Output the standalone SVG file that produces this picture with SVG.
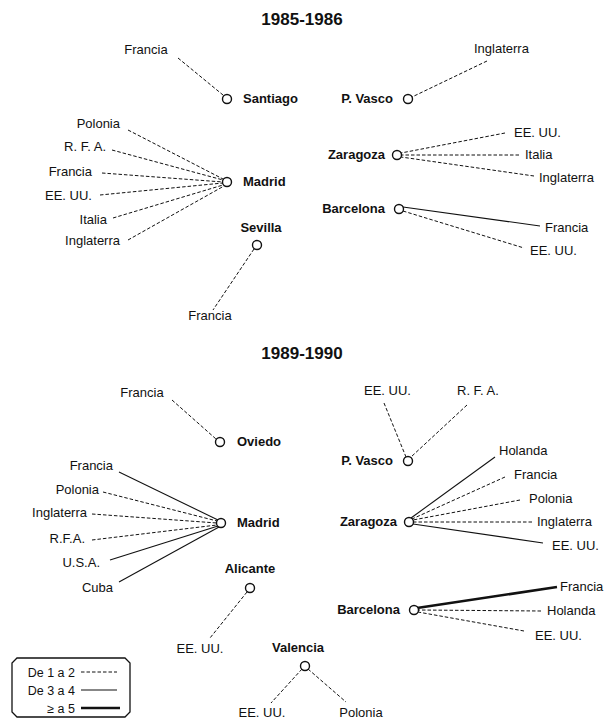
<svg xmlns="http://www.w3.org/2000/svg" width="604" height="720" viewBox="0 0 604 720">
<style>
text{font-family:"Liberation Sans",Arial,sans-serif;fill:#111}
.t{font-size:17px;font-weight:bold;text-anchor:middle}
.h{font-size:13px;font-weight:bold}
.c{font-size:13px}
.lg{font-size:12.5px;text-anchor:end}
.e{text-anchor:end}.m{text-anchor:middle}
.d{stroke:#111;stroke-width:1;stroke-dasharray:3.5 2;fill:none}
.s{stroke:#111;stroke-width:1.1;fill:none}
.k{stroke:#111;stroke-width:2.6;fill:none}
.n{fill:#fff;stroke:#111;stroke-width:1.4}
</style>
<rect width="604" height="720" fill="#fff"/>
<text class="t" x="302" y="25">1985-1986</text>
<text class="t" x="302" y="359">1989-1990</text>

<g id="connectors">
<!-- 1985 -->
<line class="d" x1="178" y1="58" x2="223" y2="95"/>
<line class="d" x1="487" y1="61" x2="412" y2="97"/>
<line class="d" x1="128" y1="130" x2="223" y2="179"/>
<line class="d" x1="112" y1="150" x2="223" y2="180"/>
<line class="d" x1="102" y1="173" x2="223" y2="182"/>
<line class="d" x1="100" y1="195" x2="223" y2="183"/>
<line class="d" x1="113" y1="218" x2="223" y2="185"/>
<line class="d" x1="128" y1="240" x2="224" y2="186"/>
<line class="d" x1="254" y1="249" x2="213" y2="310"/>
<line class="d" x1="505" y1="133" x2="401" y2="153"/>
<line class="d" x1="519" y1="155" x2="402" y2="155"/>
<line class="d" x1="534" y1="176" x2="401" y2="157"/>
<line class="s" x1="403" y1="207" x2="540" y2="226"/>
<line class="d" x1="403" y1="211" x2="524" y2="248"/>
<!-- 1989 -->
<line class="d" x1="172" y1="400" x2="216" y2="439"/>
<line class="s" x1="119" y1="472" x2="218" y2="520"/>
<line class="d" x1="103" y1="492" x2="217" y2="521"/>
<line class="d" x1="92" y1="514" x2="217" y2="523"/>
<line class="d" x1="92" y1="540" x2="217" y2="525"/>
<line class="s" x1="110" y1="560" x2="218" y2="526"/>
<line class="s" x1="119" y1="582" x2="219" y2="527"/>
<line class="d" x1="247" y1="592" x2="210" y2="638"/>
<line class="d" x1="302" y1="669" x2="271" y2="703"/>
<line class="d" x1="308" y1="669" x2="346" y2="702"/>
<line class="d" x1="384" y1="403" x2="406" y2="457"/>
<line class="d" x1="467" y1="405" x2="411" y2="457"/>
<line class="s" x1="495" y1="457" x2="411" y2="518"/>
<line class="d" x1="505" y1="477" x2="412" y2="519"/>
<line class="d" x1="520" y1="500" x2="413" y2="520"/>
<line class="d" x1="532" y1="522" x2="413" y2="522"/>
<line class="s" x1="543" y1="543" x2="413" y2="524"/>
<line class="k" x1="557" y1="587" x2="417" y2="608"/>
<line class="d" x1="541" y1="611" x2="418" y2="610"/>
<line class="d" x1="524" y1="631" x2="418" y2="612"/>
</g>

<!-- 1985-1986 nodes -->
<g id="santiago-85"><circle class="n" cx="227" cy="99" r="4.5"/><text class="h" x="243" y="103">Santiago</text></g>
<g id="pvasco-85"><circle class="n" cx="408" cy="99" r="4.5"/><text class="h e" x="393" y="103">P. Vasco</text></g>
<g id="madrid-85"><circle class="n" cx="227" cy="182" r="4.5"/><text class="h" x="243" y="186">Madrid</text></g>
<g id="sevilla-85"><circle class="n" cx="257" cy="245" r="4.5"/><text class="h m" x="261" y="232">Sevilla</text></g>
<g id="zaragoza-85"><circle class="n" cx="397" cy="155" r="4.5"/><text class="h e" x="385" y="159">Zaragoza</text></g>
<g id="barcelona-85"><circle class="n" cx="399" cy="209" r="4.5"/><text class="h e" x="385" y="213">Barcelona</text></g>
<g id="labels-85">
<text class="c m" x="146" y="54">Francia</text>
<text class="c" x="474" y="53">Inglaterra</text>
<text class="c e" x="120" y="128">Polonia</text>
<text class="c e" x="106" y="151">R. F. A.</text>
<text class="c e" x="92" y="176">Francia</text>
<text class="c e" x="92" y="200">EE. UU.</text>
<text class="c e" x="107" y="224">Italia</text>
<text class="c e" x="120" y="245">Inglaterra</text>
<text class="c m" x="210" y="320">Francia</text>
<text class="c" x="514" y="137">EE. UU.</text>
<text class="c" x="525" y="159">Italia</text>
<text class="c" x="539" y="182">Inglaterra</text>
<text class="c" x="545" y="232">Francia</text>
<text class="c" x="530" y="255">EE. UU.</text>
</g>

<!-- 1989-1990 nodes -->
<g id="oviedo-89"><circle class="n" cx="220" cy="442" r="4.5"/><text class="h" x="237" y="446">Oviedo</text></g>
<g id="madrid-89"><circle class="n" cx="221" cy="523" r="4.5"/><text class="h" x="237" y="527">Madrid</text></g>
<g id="alicante-89"><circle class="n" cx="250" cy="588" r="4.5"/><text class="h m" x="250" y="573">Alicante</text></g>
<g id="valencia-89"><circle class="n" cx="305" cy="666" r="4.5"/><text class="h m" x="298" y="652">Valencia</text></g>
<g id="pvasco-89"><circle class="n" cx="408" cy="461" r="4.5"/><text class="h e" x="393" y="465">P. Vasco</text></g>
<g id="zaragoza-89"><circle class="n" cx="409" cy="522" r="4.5"/><text class="h e" x="397" y="526">Zaragoza</text></g>
<g id="barcelona-89"><circle class="n" cx="414" cy="610" r="4.5"/><text class="h e" x="400" y="614">Barcelona</text></g>
<g id="labels-89">
<text class="c m" x="142" y="397">Francia</text>
<text class="c e" x="113" y="470">Francia</text>
<text class="c e" x="99" y="494">Polonia</text>
<text class="c e" x="87" y="517">Inglaterra</text>
<text class="c e" x="85" y="543">R.F.A.</text>
<text class="c e" x="100" y="567">U.S.A.</text>
<text class="c e" x="113" y="592">Cuba</text>
<text class="c m" x="200" y="653">EE. UU.</text>
<text class="c m" x="262" y="717">EE. UU.</text>
<text class="c m" x="361" y="717">Polonia</text>
<text class="c" x="364" y="395">EE. UU.</text>
<text class="c" x="457" y="395">R. F. A.</text>
<text class="c" x="499" y="455">Holanda</text>
<text class="c" x="514" y="479">Francia</text>
<text class="c" x="529" y="503">Polonia</text>
<text class="c" x="537" y="526">Inglaterra</text>
<text class="c" x="552" y="550">EE. UU.</text>
<text class="c" x="560" y="591">Francia</text>
<text class="c" x="547" y="615">Holanda</text>
<text class="c" x="535" y="640">EE. UU.</text>
</g>

<g id="legend">
<polygon points="17,658 125,658 130,663 130,712 125,717 17,717 12,712 12,663" fill="#fff" stroke="#111" stroke-width="1.3"/>
<text class="lg" x="75" y="677">De 1 a 2</text>
<text class="lg" x="75" y="695">De 3 a 4</text>
<text class="lg" x="75" y="713">≥ a 5</text>
<line class="d" x1="81" y1="672" x2="117" y2="672"/>
<line class="s" x1="81" y1="690" x2="117" y2="690"/>
<line class="k" x1="81" y1="708" x2="120" y2="708"/>
</g>
</svg>
